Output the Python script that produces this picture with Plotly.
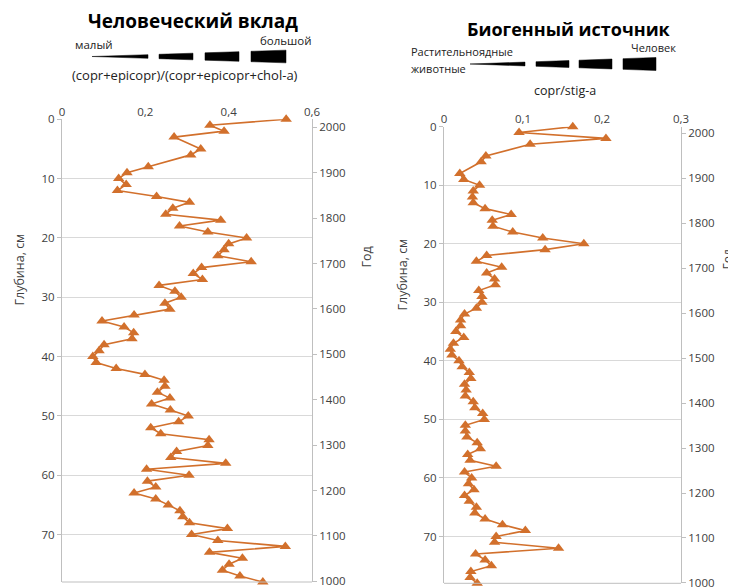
import plotly.graph_objects as go

# page body has an 8px margin, so the figure is drawn 8px in from the top-left
OFF = 8
W, H = 736 - OFF, 587 - OFF

depth = [0, 1, 2, 3, 5, 6] + list(range(8, 79))

human_ratio = [0.538, 0.355, 0.389, 0.269, 0.333, 0.309, 0.207, 0.156, 0.136, 0.154,
               0.133, 0.227, 0.306, 0.266, 0.249, 0.381, 0.282, 0.350, 0.443, 0.400,
               0.389, 0.374, 0.454, 0.335, 0.315, 0.337, 0.233, 0.271, 0.286, 0.247,
               0.259, 0.173, 0.096, 0.149, 0.172, 0.168, 0.101, 0.089, 0.074, 0.082,
               0.130, 0.199, 0.245, 0.247, 0.229, 0.259, 0.215, 0.260, 0.303, 0.280,
               0.213, 0.237, 0.353, 0.350, 0.275, 0.261, 0.393, 0.203, 0.305, 0.205,
               0.225, 0.173, 0.225, 0.255, 0.283, 0.290, 0.306, 0.397, 0.311, 0.374,
               0.536, 0.354, 0.433, 0.401, 0.385, 0.427, 0.482]

biogenic_ratio = [0.163, 0.095, 0.205, 0.109, 0.053, 0.047, 0.020, 0.025, 0.045, 0.037,
                  0.036, 0.037, 0.052, 0.085, 0.061, 0.062, 0.087, 0.125, 0.177, 0.128,
                  0.054, 0.041, 0.073, 0.054, 0.064, 0.065, 0.044, 0.048, 0.048, 0.041,
                  0.026, 0.021, 0.021, 0.015, 0.025, 0.012, 0.008, 0.010, 0.019, 0.023,
                  0.032, 0.034, 0.026, 0.028, 0.027, 0.037, 0.039, 0.049, 0.051, 0.027,
                  0.027, 0.029, 0.042, 0.046, 0.030, 0.033, 0.066, 0.026, 0.035, 0.031,
                  0.038, 0.026, 0.032, 0.041, 0.039, 0.052, 0.074, 0.103, 0.066, 0.064,
                  0.145, 0.040, 0.052, 0.060, 0.034, 0.033, 0.042]

depth_ticks = [0, 10, 20, 30, 40, 50, 60, 70]
year_ticks = list(range(1000, 2001, 100))
left_x_ticks = [0, 0.2, 0.4, 0.6]
left_x_labels = ["0", "0,2", "0,4", "0,6"]
right_x_ticks = [0, 0.1, 0.2, 0.3]
right_x_labels = ["0", "0,1", "0,2", "0,3"]

ORANGE = "#D2702C"
GRID = "#D9D9D9"
AXLINE = "#BFBFBF"
TICKC = "#404040"
FONT = "Open Sans"


def px(x):
    return (x - OFF) / W


def py(y):
    return 1 - (y - OFF) / H


fig = go.Figure()
for xa, ya, vals in (("x", "y", human_ratio), ("x2", "y3", biogenic_ratio)):
    fig.add_trace(go.Scatter(x=vals, y=depth, xaxis=xa, yaxis=ya,
                             mode="lines+markers", cliponaxis=False,
                             line=dict(color=ORANGE, width=1.6),
                             marker=dict(symbol="triangle-up", size=10, color=ORANGE),
                             showlegend=False))
# empty helper traces so that the year axes are drawn
for xa, ya in (("x", "y2"), ("x2", "y4")):
    fig.add_trace(go.Scatter(x=[None], y=[None], xaxis=xa, yaxis=ya, mode="markers",
                             showlegend=False, hoverinfo="skip"))

tickfont = dict(family=FONT, size=11.5, color=TICKC)

L_dom_x = [px(62), px(312)]
L_dom_y = [py(582), py(119.3)]
R_dom_x = [px(444), px(681)]
R_dom_y = [py(583.3), py(126.7)]

common_depth = dict(range=[78, 0], tickvals=depth_ticks, showgrid=True, gridcolor=GRID,
                    gridwidth=1, showline=True, linecolor=AXLINE, linewidth=1,
                    ticks="outside", ticklen=4, tickcolor=AXLINE, tickfont=tickfont,
                    zeroline=False, fixedrange=True, automargin=False)
common_year = dict(tickvals=year_ticks, showgrid=False, showline=True, linecolor=AXLINE,
                   linewidth=1, ticks="outside", ticklen=4, tickcolor=AXLINE,
                   tickfont=tickfont, zeroline=False, side="right", automargin=False,
                   ticklabeloverflow="allow")

fig.update_layout(
    width=W, height=H,
    margin=dict(l=0, r=0, t=0, b=0, autoexpand=False),
    paper_bgcolor="white", plot_bgcolor="white",
    font=dict(family=FONT, color=TICKC),
    xaxis=dict(domain=L_dom_x, range=[0, 0.6], side="top", anchor="y",
               tickvals=left_x_ticks, ticktext=left_x_labels, showgrid=False,
               showline=False, ticks="", zeroline=False, tickfont=tickfont,
               automargin=False),
    yaxis=dict(domain=L_dom_y, anchor="x", **common_depth),
    yaxis2=dict(domain=L_dom_y, overlaying="y", anchor="x", range=[998.5, 2017.6],
                **common_year),
    xaxis2=dict(domain=R_dom_x, range=[0, 0.3], side="top", anchor="y3",
                tickvals=right_x_ticks, ticktext=right_x_labels, showgrid=False,
                showline=False, ticks="", zeroline=False, tickfont=tickfont,
                automargin=False),
    yaxis3=dict(domain=R_dom_y, anchor="x2", **common_depth),
    yaxis4=dict(domain=R_dom_y, overlaying="y3", anchor="x2", range=[999.2, 2014.7],
                **common_year),
)

shapes = []
# bottom frame lines
for xr, yr in (("x domain", "y domain"), ("x2 domain", "y3 domain")):
    shapes.append(dict(type="line", xref=xr, yref=yr, x0=0, x1=1, y0=0, y1=0,
                       line=dict(color=AXLINE, width=1)))


def wedge(x_start, x_end, yc, tmax, segs):
    out = []
    for a, b in segs:
        ta = tmax * (a - x_start) / (x_end - x_start)
        tb = tmax * (b - x_start) / (x_end - x_start)
        pts = [(a, yc - ta / 2), (b, yc - tb / 2), (b, yc + tb / 2), (a, yc + ta / 2)]
        path = "M " + " L ".join(f"{px(x):.5f},{py(y):.5f}" for x, y in pts) + " Z"
        out.append(dict(type="path", xref="paper", yref="paper", path=path,
                        fillcolor="black", line=dict(width=0.5, color="black")))
    return out


shapes += wedge(92, 286, 56.5, 12.7, [(92, 148), (159, 193), (205, 239), (251, 286)])
shapes += wedge(470, 656, 64, 13, [(470, 525), (536, 569), (579, 612), (623, 656)])
fig.update_layout(shapes=shapes)


def ann(text, x, y, size, bold=False, xanchor="center", angle=0, color="black"):
    fig.add_annotation(text=f"<b>{text}</b>" if bold else text, x=px(x), y=py(y),
                       xref="paper", yref="paper", showarrow=False, xanchor=xanchor,
                       yanchor="middle", textangle=angle,
                       font=dict(family=FONT, size=size, color=color))


ann("Человеческий вклад", 193, 21.5, 19, bold=True)
ann("малый", 94, 44, 11.5, color="#222")
ann("большой", 286, 41, 11.5, color="#222")
ann("(copr+epicopr)/(copr+epicopr+chol-a)", 185, 75, 13, color="#222")
ann("Биогенный источник", 569, 29.3, 18, bold=True)
ann("Растительноядные", 409, 51.7, 11, xanchor="left", color="#222")
ann("животные", 409, 68.3, 11, xanchor="left", color="#222")
ann("Человек", 653, 47.7, 11, color="#222")
ann("copr/stig-a", 565, 90, 12.5, color="#222")
ann("Глубина, см", 18.5, 270, 12.5, angle=-90, color=TICKC)
ann("Глубина, см", 401.5, 275, 12.5, angle=-90, color=TICKC)
ann("Год", 366.5, 257, 12.5, angle=-90, color=TICKC)
ann("Год", 726.5, 260, 12, angle=-90, color=TICKC)

fig.write_html("out.html")
